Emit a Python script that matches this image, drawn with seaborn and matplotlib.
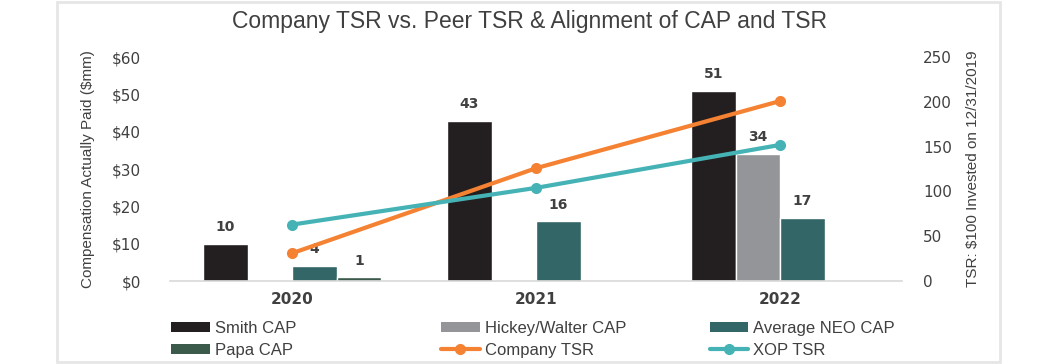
import numpy as np
import pandas as pd
import matplotlib
matplotlib.use('Agg')
import matplotlib.pyplot as plt
import seaborn as sns
from matplotlib.lines import Line2D
from matplotlib.patches import Patch, Rectangle
from matplotlib.ticker import FuncFormatter, MultipleLocator

# Data
years = ['2020', '2021', '2022']
cap_series = ['Smith CAP', 'Hickey/Walter CAP', 'Average NEO CAP', 'Papa CAP']
smith_cap = [10, 43, 51]
hickey_walter_cap = [np.nan, np.nan, 34]
average_neo_cap = [4, 16, 17]
papa_cap = [1, np.nan, np.nan]
company_tsr = [31, 126, 201]
xop_tsr = [63, 104, 152]

cap_colors = ['#231f20', '#939598', '#336666', '#3b5a4b']
orange = '#f58233'
teal = '#45b3b5'
text_color = '#404040'

sns.set_theme(style='white')
plt.rcParams['font.family'] = ['Liberation Sans', 'DejaVu Sans']

# long-form table for seaborn
rows = []
for name, vals in zip(cap_series, [smith_cap, hickey_walter_cap, average_neo_cap, papa_cap]):
    for y, v in zip(years, vals):
        if not np.isnan(v):
            rows.append({'year': y, 'series': name, 'value': v})
df = pd.DataFrame(rows)

fig = plt.figure(figsize=(10.58, 3.64), dpi=100)
ax = fig.add_axes([0.1607, 0.228, 0.692, 0.615])

sns.barplot(data=df, x='year', y='value', hue='series', order=years,
            hue_order=cap_series, palette=cap_colors, width=0.73, gap=0,
            saturation=1, ax=ax, legend=False, errorbar=None)

# value labels above bars
for patch in ax.patches:
    h = patch.get_height()
    if np.isfinite(h) and h > 0:
        ax.annotate(f'{h:.0f}', (patch.get_x() + patch.get_width() / 2, h),
                    xytext=(0, 7), textcoords='offset points', ha='center',
                    va='bottom', fontsize=10, fontweight='bold',
                    color=text_color, family='DejaVu Sans')

ax.set_xlim(-0.5, 2.5)
ax.set_ylim(0, 60)
ax.yaxis.set_major_locator(MultipleLocator(10))
ax.yaxis.set_major_formatter(FuncFormatter(lambda v, p: f'${v:.0f}'))
ax.set_xlabel('')
ax.set_ylabel('Compensation Actually Paid ($mm)', fontsize=11,
              color=text_color, labelpad=12)
for s in ['top', 'right', 'left']:
    ax.spines[s].set_visible(False)
ax.spines['bottom'].set_color('#d9d9d9')
ax.spines['bottom'].set_linewidth(1.2)
ax.tick_params(axis='y', length=0, pad=21, labelsize=11, labelcolor=text_color)
ax.tick_params(axis='x', length=0, pad=8)
for lbl in ax.get_yticklabels():
    lbl.set_family('DejaVu Sans')
for lbl in ax.get_xticklabels():
    lbl.set_family('DejaVu Sans')
    lbl.set_fontweight('bold')
    lbl.set_fontsize(11)
    lbl.set_color(text_color)

# TSR lines on secondary axis
ax2 = ax.twinx()
x_pos = np.arange(len(years))
sns.lineplot(x=x_pos, y=company_tsr, ax=ax2, color=orange, lw=3,
             marker='o', markersize=8, markeredgewidth=0)
sns.lineplot(x=x_pos, y=xop_tsr, ax=ax2, color=teal, lw=3,
             marker='o', markersize=8, markeredgewidth=0)
ax2.set_ylim(0, 250)
ax2.yaxis.set_major_locator(MultipleLocator(50))
for s in ['top', 'right', 'left', 'bottom']:
    ax2.spines[s].set_visible(False)
ax2.tick_params(axis='y', length=0, pad=15, labelsize=11, labelcolor=text_color)
for lbl in ax2.get_yticklabels():
    lbl.set_family('DejaVu Sans')
ax2.set_ylabel('TSR: $100 Invested on 12/31/2019', fontsize=11,
               color=text_color, labelpad=10)
ax2.grid(False)
ax.grid(False)

fig.text(0.5, 0.94, 'Company TSR vs. Peer TSR & Alignment of CAP and TSR',
         ha='center', va='center', fontsize=16.5, color=text_color)

# legend in three columns placed like the reference
def patch(c):
    return Patch(facecolor=c, edgecolor='none')

def line(c):
    return Line2D([], [], color=c, lw=3, marker='o', markersize=7)

cols = [
    ([patch(cap_colors[0]), patch(cap_colors[3])], ['Smith CAP', 'Papa CAP'], 0.162),
    ([patch(cap_colors[1]), line(orange)], ['Hickey/Walter CAP', 'Company TSR'], 0.417),
    ([patch(cap_colors[2]), line(teal)], ['Average NEO CAP', 'XOP TSR'], 0.671),
]
for handles, labels, x0 in cols:
    fig.legend(handles, labels, loc='upper left', bbox_to_anchor=(x0, 0.118),
               frameon=False, fontsize=12, handlelength=2.3, handleheight=0.6,
               handletextpad=0.3, labelspacing=0.4, borderpad=0,
               borderaxespad=0, labelcolor=text_color)

# light frame around chart
fig.patches.append(Rectangle((57 / 1058, 2 / 364), (1000 - 57) / 1058, 360 / 364,
                             transform=fig.transFigure, fill=False,
                             edgecolor='#e6e6e6', lw=2))

fig.savefig('out.png', dpi=100, facecolor='white')
